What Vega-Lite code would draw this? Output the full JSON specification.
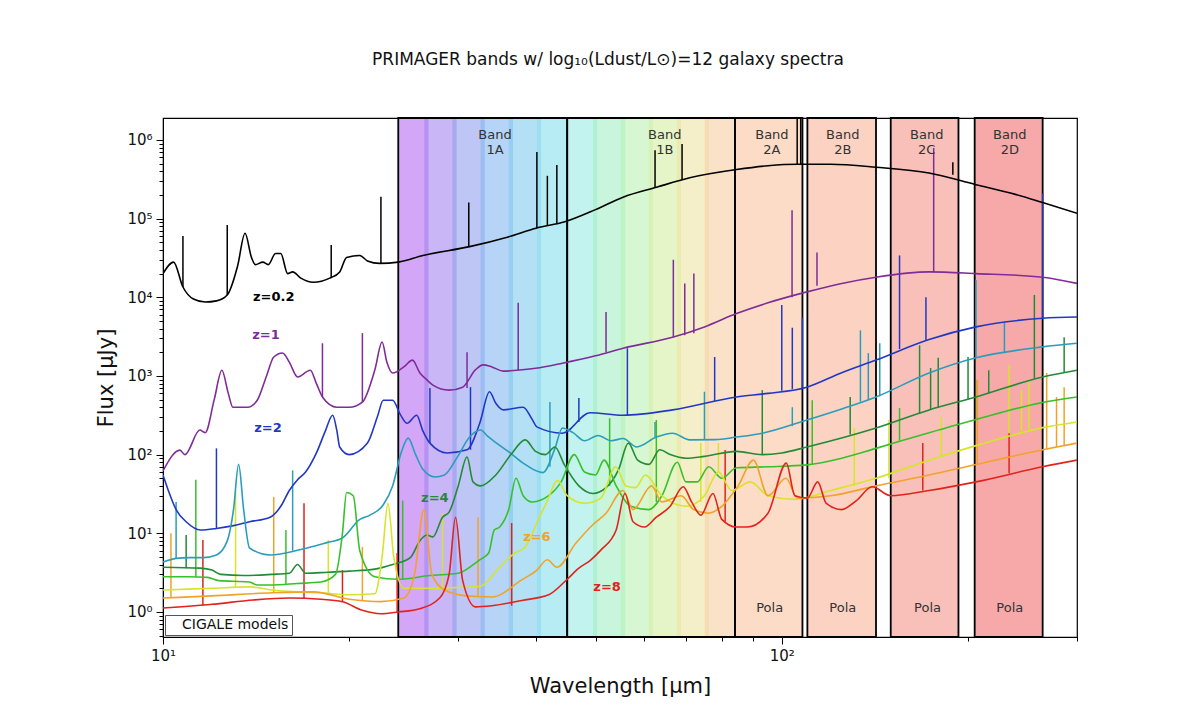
{
  "$schema": "https://vega.github.io/schema/vega-lite/v6.json",
  "width": 914,
  "height": 519,
  "autosize": "none",
  "padding": {"left": 163, "top": 118, "right": 115, "bottom": 83},
  "background": "white",
  "config": {"font": "DejaVu Sans", "view": {"stroke": "#000", "strokeWidth": 1.2}},
  "title": {"text": "PRIMAGER bands w/ log₁₀(Ldust/L⊙)=12 galaxy spectra", "fontSize": 17, "fontWeight": "normal", "font": "DejaVu Sans", "color": "#111", "offset": 48, "dx": -12},
  "datasets": {
    "strips": [
      {"b": "a1", "lo": 24, "hi": 26.86}, {"b": "a2", "lo": 26.44, "hi": 29.83}, {"b": "a3", "lo": 29.35, "hi": 33.12},
      {"b": "a4", "lo": 32.6, "hi": 36.78}, {"b": "a5", "lo": 36.2, "hi": 40.84}, {"b": "a6", "lo": 40.2, "hi": 45},
      {"b": "b1", "lo": 45, "hi": 50.33}, {"b": "b2", "lo": 49.53, "hi": 55.84}, {"b": "b3", "lo": 54.96, "hi": 61.96},
      {"b": "b4", "lo": 60.98, "hi": 68.75}, {"b": "b5", "lo": 67.66, "hi": 76.31}, {"b": "b6", "lo": 75.1, "hi": 84}
    ],
    "bands": [
      {"b": "1A", "lo": 24, "hi": 45}, {"b": "1B", "lo": 45, "hi": 84},
      {"b": "2A", "lo": 84, "hi": 108}, {"b": "2B", "lo": 110, "hi": 142},
      {"b": "2C", "lo": 150, "hi": 193}, {"b": "2D", "lo": 205, "hi": 264}
    ],
    "labels": [
      {"t": "Band\n1A", "wl": 34.4, "f": 1150000}, {"t": "Band\n1B", "wl": 64.7, "f": 1150000},
      {"t": "Band\n2A", "wl": 96.4, "f": 1150000}, {"t": "Band\n2B", "wl": 125.5, "f": 1150000},
      {"t": "Band\n2C", "wl": 171.5, "f": 1150000}, {"t": "Band\n2D", "wl": 233.6, "f": 1150000},
      {"t": "Pola", "wl": 95.6, "f": 1.12}, {"t": "Pola", "wl": 125.5, "f": 1.12},
      {"t": "Pola", "wl": 172, "f": 1.12}, {"t": "Pola", "wl": 233.6, "f": 1.12}
    ],
    "zlabels": [
      {"t": "z=0.2", "s": "z=0.2", "wl": 15.1, "f": 10000},
      {"t": "z=1", "s": "z=1", "wl": 14.67, "f": 3300},
      {"t": "z=2", "s": "z=2", "wl": 14.78, "f": 218},
      {"t": "z=4", "s": "z=4", "wl": 27.5, "f": 28},
      {"t": "z=6", "s": "z=7", "wl": 40.2, "f": 9},
      {"t": "z=8", "s": "z=8", "wl": 52.2, "f": 2.08}
    ],
    "spikes": [
      {"s": "z=0.2", "wl": 10.77, "lo": 13500, "hi": 60000}, {"s": "z=0.2", "wl": 12.7, "lo": 10700, "hi": 83000},
      {"s": "z=0.2", "wl": 18.7, "lo": 17500, "hi": 46000}, {"s": "z=0.2", "wl": 22.5, "lo": 27000, "hi": 190000},
      {"s": "z=0.2", "wl": 31.2, "lo": 44000, "hi": 160000}, {"s": "z=0.2", "wl": 40.2, "lo": 76000, "hi": 700000},
      {"s": "z=0.2", "wl": 41.8, "lo": 82000, "hi": 350000}, {"s": "z=0.2", "wl": 43.3, "lo": 88000, "hi": 480000},
      {"s": "z=0.2", "wl": 62.4, "lo": 250000, "hi": 740000}, {"s": "z=0.2", "wl": 69, "lo": 310000, "hi": 890000},
      {"s": "z=0.2", "wl": 105.9, "lo": 490000, "hi": 3000000}, {"s": "z=0.2", "wl": 107.3, "lo": 490000, "hi": 3000000},
      {"s": "z=0.2", "wl": 189, "lo": 360000, "hi": 520000},
      {"s": "z=1", "wl": 18.1, "lo": 540, "hi": 2600}, {"s": "z=1", "wl": 21.0, "lo": 465, "hi": 3500},
      {"s": "z=1", "wl": 31.0, "lo": 700, "hi": 2000}, {"s": "z=1", "wl": 37.5, "lo": 1180, "hi": 8500},
      {"s": "z=1", "wl": 52, "lo": 2000, "hi": 6500}, {"s": "z=1", "wl": 66.8, "lo": 3100, "hi": 30000},
      {"s": "z=1", "wl": 69.7, "lo": 3300, "hi": 15000}, {"s": "z=1", "wl": 72.1, "lo": 3500, "hi": 20000},
      {"s": "z=1", "wl": 103.9, "lo": 10000, "hi": 128000}, {"s": "z=1", "wl": 114, "lo": 14000, "hi": 37000},
      {"s": "z=1", "wl": 176, "lo": 21000, "hi": 790000},
      {"s": "z=2", "wl": 12.2, "lo": 11.5, "hi": 120}, {"s": "z=2", "wl": 27, "lo": 140, "hi": 700},
      {"s": "z=2", "wl": 31.4, "lo": 115, "hi": 720}, {"s": "z=2", "wl": 47, "lo": 260, "hi": 525},
      {"s": "z=2", "wl": 56.3, "lo": 316, "hi": 2250}, {"s": "z=2", "wl": 77.9, "lo": 480, "hi": 1740},
      {"s": "z=2", "wl": 100, "lo": 650, "hi": 8000}, {"s": "z=2", "wl": 104, "lo": 680, "hi": 4100},
      {"s": "z=2", "wl": 108, "lo": 710, "hi": 5500}, {"s": "z=2", "wl": 155, "lo": 2200, "hi": 34000},
      {"s": "z=2", "wl": 171, "lo": 2800, "hi": 10000}, {"s": "z=2", "wl": 264, "lo": 5400, "hi": 210000},
      {"s": "z=3", "wl": 10.5, "lo": 4.8, "hi": 25}, {"s": "z=3", "wl": 16.2, "lo": 6, "hi": 63},
      {"s": "z=3", "wl": 42.2, "lo": 70, "hi": 465}, {"s": "z=3", "wl": 62.4, "lo": 167, "hi": 260},
      {"s": "z=3", "wl": 75, "lo": 155, "hi": 630}, {"s": "z=3", "wl": 104, "lo": 230, "hi": 400},
      {"s": "z=3", "wl": 134, "lo": 470, "hi": 3800}, {"s": "z=3", "wl": 138, "lo": 500, "hi": 1950},
      {"s": "z=3", "wl": 144, "lo": 550, "hi": 2600}, {"s": "z=3", "wl": 206, "lo": 1700, "hi": 16600},
      {"s": "z=3", "wl": 229, "lo": 1950, "hi": 4800},
      {"s": "z=4", "wl": 10.9, "lo": 3.6, "hi": 9.5}, {"s": "z=4", "wl": 93, "lo": 100, "hi": 660},
      {"s": "z=4", "wl": 129, "lo": 180, "hi": 540}, {"s": "z=4", "wl": 167, "lo": 330, "hi": 2450},
      {"s": "z=4", "wl": 174, "lo": 380, "hi": 1260}, {"s": "z=4", "wl": 179, "lo": 400, "hi": 1700},
      {"s": "z=4", "wl": 200, "lo": 500, "hi": 1740}, {"s": "z=4", "wl": 216, "lo": 600, "hi": 1180},
      {"s": "z=4", "wl": 256, "lo": 920, "hi": 10700}, {"s": "z=4", "wl": 286, "lo": 1100, "hi": 3100},
      {"s": "z=5", "wl": 11.3, "lo": 2.75, "hi": 48}, {"s": "z=5", "wl": 15.8, "lo": 2.2, "hi": 11},
      {"s": "z=5", "wl": 24.4, "lo": 2.6, "hi": 26}, {"s": "z=5", "wl": 52.7, "lo": 40, "hi": 290},
      {"s": "z=5", "wl": 62.7, "lo": 25, "hi": 275}, {"s": "z=5", "wl": 112, "lo": 75, "hi": 490},
      {"s": "z=5", "wl": 155, "lo": 150, "hi": 390}, {"s": "z=5", "wl": 207, "lo": 280, "hi": 890},
      {"s": "z=6", "wl": 13.1, "lo": 2.05, "hi": 35}, {"s": "z=6", "wl": 18.5, "lo": 1.75, "hi": 8.2},
      {"s": "z=6", "wl": 28.3, "lo": 2.0, "hi": 18}, {"s": "z=6", "wl": 74, "lo": 25, "hi": 140},
      {"s": "z=6", "wl": 79, "lo": 60, "hi": 140}, {"s": "z=6", "wl": 131, "lo": 40, "hi": 220},
      {"s": "z=6", "wl": 149, "lo": 50, "hi": 275}, {"s": "z=6", "wl": 181, "lo": 95, "hi": 300},
      {"s": "z=6", "wl": 233, "lo": 190, "hi": 1380}, {"s": "z=6", "wl": 244, "lo": 200, "hi": 660},
      {"s": "z=6", "wl": 251, "lo": 210, "hi": 830},
      {"s": "z=7", "wl": 10.3, "lo": 1.5, "hi": 10}, {"s": "z=7", "wl": 15.1, "lo": 1.75, "hi": 29},
      {"s": "z=7", "wl": 21, "lo": 1.4, "hi": 6.7}, {"s": "z=7", "wl": 32.3, "lo": 1.6, "hi": 16},
      {"s": "z=7", "wl": 207, "lo": 75, "hi": 890}, {"s": "z=7", "wl": 268, "lo": 118, "hi": 1090},
      {"s": "z=7", "wl": 278, "lo": 125, "hi": 540}, {"s": "z=7", "wl": 286, "lo": 130, "hi": 720},
      {"s": "z=8", "wl": 11.6, "lo": 1.2, "hi": 8.2}, {"s": "z=8", "wl": 16.9, "lo": 1.5, "hi": 24},
      {"s": "z=8", "wl": 19.5, "lo": 1.35, "hi": 3.4}, {"s": "z=8", "wl": 23.9, "lo": 1.0, "hi": 5.6},
      {"s": "z=8", "wl": 36.6, "lo": 1.2, "hi": 13.5}, {"s": "z=8", "wl": 81, "lo": 14, "hi": 114},
      {"s": "z=8", "wl": 169, "lo": 35, "hi": 140}, {"s": "z=8", "wl": 233, "lo": 58, "hi": 187}
    ],
    "spec": [
      {"s": "z=0.2", "wl": 10, "f": 20000}, {"s": "z=0.2", "wl": 10.4, "f": 28000}, {"s": "z=0.2", "wl": 10.77, "f": 13500},
      {"s": "z=0.2", "wl": 11.2, "f": 9500}, {"s": "z=0.2", "wl": 11.7, "f": 8700}, {"s": "z=0.2", "wl": 12.2, "f": 9000},
      {"s": "z=0.2", "wl": 12.7, "f": 10700}, {"s": "z=0.2", "wl": 13.2, "f": 25000}, {"s": "z=0.2", "wl": 13.57, "f": 65000},
      {"s": "z=0.2", "wl": 13.9, "f": 32000}, {"s": "z=0.2", "wl": 14.1, "f": 26000}, {"s": "z=0.2", "wl": 14.5, "f": 28000},
      {"s": "z=0.2", "wl": 14.8, "f": 26000}, {"s": "z=0.2", "wl": 15.2, "f": 36000}, {"s": "z=0.2", "wl": 15.5, "f": 36000},
      {"s": "z=0.2", "wl": 15.9, "f": 20000}, {"s": "z=0.2", "wl": 16.2, "f": 21000}, {"s": "z=0.2", "wl": 16.7, "f": 17500},
      {"s": "z=0.2", "wl": 17.5, "f": 15500}, {"s": "z=0.2", "wl": 18.6, "f": 17500}, {"s": "z=0.2", "wl": 19.3, "f": 21000},
      {"s": "z=0.2", "wl": 19.8, "f": 32000}, {"s": "z=0.2", "wl": 20.8, "f": 34000}, {"s": "z=0.2", "wl": 21.4, "f": 29000},
      {"s": "z=0.2", "wl": 22.4, "f": 27000}, {"s": "z=0.2", "wl": 24, "f": 28000}, {"s": "z=0.2", "wl": 26.3, "f": 34000},
      {"s": "z=0.2", "wl": 31.3, "f": 44000}, {"s": "z=0.2", "wl": 36, "f": 58000}, {"s": "z=0.2", "wl": 40.2, "f": 76000},
      {"s": "z=0.2", "wl": 44.6, "f": 91000}, {"s": "z=0.2", "wl": 50, "f": 130000}, {"s": "z=0.2", "wl": 55.4, "f": 187000},
      {"s": "z=0.2", "wl": 62.7, "f": 250000}, {"s": "z=0.2", "wl": 71, "f": 330000}, {"s": "z=0.2", "wl": 84.5, "f": 420000},
      {"s": "z=0.2", "wl": 95, "f": 470000}, {"s": "z=0.2", "wl": 106, "f": 490000}, {"s": "z=0.2", "wl": 120, "f": 490000},
      {"s": "z=0.2", "wl": 142, "f": 450000}, {"s": "z=0.2", "wl": 173, "f": 380000}, {"s": "z=0.2", "wl": 206, "f": 270000},
      {"s": "z=0.2", "wl": 235, "f": 210000}, {"s": "z=0.2", "wl": 264, "f": 160000}, {"s": "z=0.2", "wl": 300, "f": 117000},

      {"s": "z=1", "wl": 10, "f": 62}, {"s": "z=1", "wl": 10.65, "f": 114}, {"s": "z=1", "wl": 10.85, "f": 100},
      {"s": "z=1", "wl": 11.47, "f": 205}, {"s": "z=1", "wl": 11.7, "f": 190}, {"s": "z=1", "wl": 12.1, "f": 500},
      {"s": "z=1", "wl": 12.45, "f": 1180}, {"s": "z=1", "wl": 12.75, "f": 600}, {"s": "z=1", "wl": 12.97, "f": 400},
      {"s": "z=1", "wl": 13.7, "f": 400}, {"s": "z=1", "wl": 14.2, "f": 490}, {"s": "z=1", "wl": 14.7, "f": 1000},
      {"s": "z=1", "wl": 15.1, "f": 1740}, {"s": "z=1", "wl": 15.6, "f": 1960}, {"s": "z=1", "wl": 16.0, "f": 1500},
      {"s": "z=1", "wl": 16.5, "f": 970}, {"s": "z=1", "wl": 17.3, "f": 1180}, {"s": "z=1", "wl": 17.7, "f": 800},
      {"s": "z=1", "wl": 18.1, "f": 540}, {"s": "z=1", "wl": 19.1, "f": 400}, {"s": "z=1", "wl": 20.0, "f": 400},
      {"s": "z=1", "wl": 21.0, "f": 465}, {"s": "z=1", "wl": 22.0, "f": 1200}, {"s": "z=1", "wl": 22.6, "f": 2700},
      {"s": "z=1", "wl": 23.0, "f": 1500}, {"s": "z=1", "wl": 23.5, "f": 1090}, {"s": "z=1", "wl": 24.5, "f": 1300},
      {"s": "z=1", "wl": 25.3, "f": 1590}, {"s": "z=1", "wl": 26.0, "f": 1100}, {"s": "z=1", "wl": 26.7, "f": 890},
      {"s": "z=1", "wl": 27.3, "f": 765}, {"s": "z=1", "wl": 29.0, "f": 660}, {"s": "z=1", "wl": 30.5, "f": 720},
      {"s": "z=1", "wl": 32.0, "f": 1200}, {"s": "z=1", "wl": 32.9, "f": 1380}, {"s": "z=1", "wl": 34.0, "f": 1300},
      {"s": "z=1", "wl": 35.5, "f": 1150}, {"s": "z=1", "wl": 37.3, "f": 1180}, {"s": "z=1", "wl": 40, "f": 1250},
      {"s": "z=1", "wl": 44.2, "f": 1450}, {"s": "z=1", "wl": 50, "f": 1800}, {"s": "z=1", "wl": 55.4, "f": 2250},
      {"s": "z=1", "wl": 66.6, "f": 3100}, {"s": "z=1", "wl": 75, "f": 4200}, {"s": "z=1", "wl": 84.5, "f": 6200},
      {"s": "z=1", "wl": 95, "f": 8500}, {"s": "z=1", "wl": 109.8, "f": 11700}, {"s": "z=1", "wl": 125, "f": 15000},
      {"s": "z=1", "wl": 142, "f": 18000}, {"s": "z=1", "wl": 173, "f": 21000}, {"s": "z=1", "wl": 206, "f": 20000},
      {"s": "z=1", "wl": 264, "f": 18000}, {"s": "z=1", "wl": 300, "f": 15000},

      {"s": "z=2", "wl": 10, "f": 55}, {"s": "z=2", "wl": 10.2, "f": 35}, {"s": "z=2", "wl": 10.5, "f": 20},
      {"s": "z=2", "wl": 10.9, "f": 14}, {"s": "z=2", "wl": 11.5, "f": 11}, {"s": "z=2", "wl": 12.2, "f": 11.5},
      {"s": "z=2", "wl": 13, "f": 12.5}, {"s": "z=2", "wl": 13.8, "f": 14}, {"s": "z=2", "wl": 14.9, "f": 16},
      {"s": "z=2", "wl": 15.5, "f": 22}, {"s": "z=2", "wl": 16.0, "f": 35}, {"s": "z=2", "wl": 16.5, "f": 48},
      {"s": "z=2", "wl": 17.0, "f": 60}, {"s": "z=2", "wl": 17.7, "f": 105}, {"s": "z=2", "wl": 18.3, "f": 200},
      {"s": "z=2", "wl": 18.8, "f": 316}, {"s": "z=2", "wl": 19.1, "f": 200}, {"s": "z=2", "wl": 19.3, "f": 125},
      {"s": "z=2", "wl": 20.0, "f": 100}, {"s": "z=2", "wl": 21.4, "f": 140}, {"s": "z=2", "wl": 22.2, "f": 300},
      {"s": "z=2", "wl": 22.7, "f": 490}, {"s": "z=2", "wl": 23.5, "f": 490}, {"s": "z=2", "wl": 24.2, "f": 320},
      {"s": "z=2", "wl": 24.8, "f": 250}, {"s": "z=2", "wl": 25.7, "f": 316}, {"s": "z=2", "wl": 26.3, "f": 200},
      {"s": "z=2", "wl": 27, "f": 140}, {"s": "z=2", "wl": 28.8, "f": 105}, {"s": "z=2", "wl": 31, "f": 115},
      {"s": "z=2", "wl": 32.5, "f": 250}, {"s": "z=2", "wl": 33.7, "f": 630}, {"s": "z=2", "wl": 34.5, "f": 450},
      {"s": "z=2", "wl": 35.5, "f": 370}, {"s": "z=2", "wl": 38.2, "f": 400}, {"s": "z=2", "wl": 39.5, "f": 280},
      {"s": "z=2", "wl": 40.2, "f": 225}, {"s": "z=2", "wl": 44.2, "f": 187}, {"s": "z=2", "wl": 49, "f": 340},
      {"s": "z=2", "wl": 55.4, "f": 316}, {"s": "z=2", "wl": 66.6, "f": 370}, {"s": "z=2", "wl": 84.5, "f": 540},
      {"s": "z=2", "wl": 95, "f": 600}, {"s": "z=2", "wl": 109.8, "f": 720}, {"s": "z=2", "wl": 125, "f": 1100},
      {"s": "z=2", "wl": 142, "f": 1590}, {"s": "z=2", "wl": 173, "f": 2900}, {"s": "z=2", "wl": 206, "f": 4200},
      {"s": "z=2", "wl": 264, "f": 5400}, {"s": "z=2", "wl": 300, "f": 5600},

      {"s": "z=3", "wl": 10, "f": 4.3}, {"s": "z=3", "wl": 10.5, "f": 4.8}, {"s": "z=3", "wl": 11, "f": 4.9},
      {"s": "z=3", "wl": 11.6, "f": 4.9}, {"s": "z=3", "wl": 12.2, "f": 5.3}, {"s": "z=3", "wl": 12.7, "f": 8},
      {"s": "z=3", "wl": 13.0, "f": 20}, {"s": "z=3", "wl": 13.25, "f": 75}, {"s": "z=3", "wl": 13.5, "f": 20},
      {"s": "z=3", "wl": 13.8, "f": 6.5}, {"s": "z=3", "wl": 14.9, "f": 5.3}, {"s": "z=3", "wl": 16.7, "f": 6.2},
      {"s": "z=3", "wl": 18.4, "f": 7.6}, {"s": "z=3", "wl": 19.5, "f": 8.7}, {"s": "z=3", "wl": 20.8, "f": 15},
      {"s": "z=3", "wl": 21.6, "f": 17}, {"s": "z=3", "wl": 22.7, "f": 23}, {"s": "z=3", "wl": 23.5, "f": 40},
      {"s": "z=3", "wl": 24.3, "f": 110}, {"s": "z=3", "wl": 24.9, "f": 162}, {"s": "z=3", "wl": 25.6, "f": 100},
      {"s": "z=3", "wl": 26.3, "f": 65}, {"s": "z=3", "wl": 27.5, "f": 52}, {"s": "z=3", "wl": 28.5, "f": 55},
      {"s": "z=3", "wl": 29.9, "f": 93}, {"s": "z=3", "wl": 31.3, "f": 167}, {"s": "z=3", "wl": 32.6, "f": 205},
      {"s": "z=3", "wl": 33.5, "f": 170}, {"s": "z=3", "wl": 34.6, "f": 140}, {"s": "z=3", "wl": 36.4, "f": 105},
      {"s": "z=3", "wl": 38.2, "f": 78}, {"s": "z=3", "wl": 41.1, "f": 59}, {"s": "z=3", "wl": 43, "f": 120},
      {"s": "z=3", "wl": 44.2, "f": 218}, {"s": "z=3", "wl": 46, "f": 190}, {"s": "z=3", "wl": 48, "f": 150},
      {"s": "z=3", "wl": 50.5, "f": 175}, {"s": "z=3", "wl": 53, "f": 150}, {"s": "z=3", "wl": 55.4, "f": 160},
      {"s": "z=3", "wl": 58.3, "f": 125}, {"s": "z=3", "wl": 62.7, "f": 167}, {"s": "z=3", "wl": 66.6, "f": 187},
      {"s": "z=3", "wl": 71, "f": 154}, {"s": "z=3", "wl": 78, "f": 155}, {"s": "z=3", "wl": 84.5, "f": 167},
      {"s": "z=3", "wl": 93, "f": 187}, {"s": "z=3", "wl": 109.8, "f": 275}, {"s": "z=3", "wl": 125, "f": 380},
      {"s": "z=3", "wl": 142, "f": 540}, {"s": "z=3", "wl": 173, "f": 1090}, {"s": "z=3", "wl": 206, "f": 1700},
      {"s": "z=3", "wl": 264, "f": 2340}, {"s": "z=3", "wl": 300, "f": 2600},

      {"s": "z=4", "wl": 10, "f": 3.7}, {"s": "z=4", "wl": 11.5, "f": 3.6}, {"s": "z=4", "wl": 12, "f": 3.4},
      {"s": "z=4", "wl": 12.4, "f": 3.0}, {"s": "z=4", "wl": 13.5, "f": 2.9}, {"s": "z=4", "wl": 15, "f": 3.0},
      {"s": "z=4", "wl": 16, "f": 3.1}, {"s": "z=4", "wl": 16.5, "f": 4.0}, {"s": "z=4", "wl": 17, "f": 3.1},
      {"s": "z=4", "wl": 18.5, "f": 3.2}, {"s": "z=4", "wl": 20, "f": 3.3}, {"s": "z=4", "wl": 22, "f": 3.5},
      {"s": "z=4", "wl": 23.5, "f": 4.0}, {"s": "z=4", "wl": 25.1, "f": 4.9}, {"s": "z=4", "wl": 26, "f": 8},
      {"s": "z=4", "wl": 26.7, "f": 9.5}, {"s": "z=4", "wl": 27.3, "f": 9}, {"s": "z=4", "wl": 28.3, "f": 16},
      {"s": "z=4", "wl": 29, "f": 18.6}, {"s": "z=4", "wl": 30, "f": 40}, {"s": "z=4", "wl": 31, "f": 93},
      {"s": "z=4", "wl": 31.7, "f": 45}, {"s": "z=4", "wl": 32.6, "f": 40}, {"s": "z=4", "wl": 34.5, "f": 55},
      {"s": "z=4", "wl": 36.5, "f": 100}, {"s": "z=4", "wl": 38.5, "f": 154}, {"s": "z=4", "wl": 40, "f": 110},
      {"s": "z=4", "wl": 41.5, "f": 100}, {"s": "z=4", "wl": 43, "f": 125}, {"s": "z=4", "wl": 44.5, "f": 75},
      {"s": "z=4", "wl": 47, "f": 40}, {"s": "z=4", "wl": 49.5, "f": 32}, {"s": "z=4", "wl": 52, "f": 38},
      {"s": "z=4", "wl": 54.5, "f": 65}, {"s": "z=4", "wl": 56.5, "f": 140}, {"s": "z=4", "wl": 58.5, "f": 85},
      {"s": "z=4", "wl": 61, "f": 75}, {"s": "z=4", "wl": 63.5, "f": 115}, {"s": "z=4", "wl": 66, "f": 100},
      {"s": "z=4", "wl": 70, "f": 90}, {"s": "z=4", "wl": 75, "f": 95}, {"s": "z=4", "wl": 84.5, "f": 110},
      {"s": "z=4", "wl": 93, "f": 100}, {"s": "z=4", "wl": 100, "f": 105}, {"s": "z=4", "wl": 109.8, "f": 125},
      {"s": "z=4", "wl": 142, "f": 218}, {"s": "z=4", "wl": 173, "f": 370}, {"s": "z=4", "wl": 206, "f": 540},
      {"s": "z=4", "wl": 264, "f": 970}, {"s": "z=4", "wl": 300, "f": 1180},

      {"s": "z=5", "wl": 10, "f": 2.8}, {"s": "z=5", "wl": 11, "f": 2.8}, {"s": "z=5", "wl": 11.8, "f": 2.75},
      {"s": "z=5", "wl": 12.3, "f": 2.5}, {"s": "z=5", "wl": 13, "f": 2.45}, {"s": "z=5", "wl": 13.8, "f": 2.4},
      {"s": "z=5", "wl": 14.2, "f": 2.2}, {"s": "z=5", "wl": 15, "f": 2.2}, {"s": "z=5", "wl": 16.5, "f": 2.3},
      {"s": "z=5", "wl": 18, "f": 2.4}, {"s": "z=5", "wl": 19, "f": 3.0}, {"s": "z=5", "wl": 19.5, "f": 10},
      {"s": "z=5", "wl": 19.8, "f": 33}, {"s": "z=5", "wl": 20.3, "f": 30}, {"s": "z=5", "wl": 20.8, "f": 6},
      {"s": "z=5", "wl": 22, "f": 2.8}, {"s": "z=5", "wl": 24, "f": 2.6}, {"s": "z=5", "wl": 27, "f": 2.9},
      {"s": "z=5", "wl": 30, "f": 3.1}, {"s": "z=5", "wl": 32.5, "f": 4.6}, {"s": "z=5", "wl": 33.6, "f": 5.6},
      {"s": "z=5", "wl": 34.3, "f": 11}, {"s": "z=5", "wl": 35, "f": 12}, {"s": "z=5", "wl": 36.2, "f": 20},
      {"s": "z=5", "wl": 37.2, "f": 50}, {"s": "z=5", "wl": 38.2, "f": 30}, {"s": "z=5", "wl": 39.5, "f": 25},
      {"s": "z=5", "wl": 42, "f": 30}, {"s": "z=5", "wl": 44, "f": 45}, {"s": "z=5", "wl": 46.2, "f": 100},
      {"s": "z=5", "wl": 48, "f": 60}, {"s": "z=5", "wl": 50, "f": 55}, {"s": "z=5", "wl": 51.6, "f": 85},
      {"s": "z=5", "wl": 54, "f": 40}, {"s": "z=5", "wl": 57, "f": 22}, {"s": "z=5", "wl": 61, "f": 20},
      {"s": "z=5", "wl": 64, "f": 30}, {"s": "z=5", "wl": 67.8, "f": 80}, {"s": "z=5", "wl": 70, "f": 45},
      {"s": "z=5", "wl": 73, "f": 45}, {"s": "z=5", "wl": 76.2, "f": 70}, {"s": "z=5", "wl": 80, "f": 50},
      {"s": "z=5", "wl": 84.5, "f": 68}, {"s": "z=5", "wl": 95, "f": 70}, {"s": "z=5", "wl": 109.8, "f": 74},
      {"s": "z=5", "wl": 125, "f": 90}, {"s": "z=5", "wl": 142, "f": 120}, {"s": "z=5", "wl": 173, "f": 190},
      {"s": "z=5", "wl": 206, "f": 280}, {"s": "z=5", "wl": 264, "f": 460}, {"s": "z=5", "wl": 300, "f": 540},

      {"s": "z=6", "wl": 10, "f": 1.9}, {"s": "z=6", "wl": 12, "f": 2.0}, {"s": "z=6", "wl": 13.8, "f": 2.08},
      {"s": "z=6", "wl": 15, "f": 1.9}, {"s": "z=6", "wl": 16.5, "f": 1.8}, {"s": "z=6", "wl": 18, "f": 1.75},
      {"s": "z=6", "wl": 20, "f": 1.65}, {"s": "z=6", "wl": 22, "f": 1.7}, {"s": "z=6", "wl": 22.6, "f": 5},
      {"s": "z=6", "wl": 23.1, "f": 24}, {"s": "z=6", "wl": 23.6, "f": 5}, {"s": "z=6", "wl": 24.5, "f": 2.0},
      {"s": "z=6", "wl": 27, "f": 2.0}, {"s": "z=6", "wl": 30, "f": 2.05}, {"s": "z=6", "wl": 32.5, "f": 2.1},
      {"s": "z=6", "wl": 35, "f": 3.7}, {"s": "z=6", "wl": 37, "f": 5.6}, {"s": "z=6", "wl": 38.5, "f": 6.7},
      {"s": "z=6", "wl": 40.2, "f": 13.5}, {"s": "z=6", "wl": 41.8, "f": 26}, {"s": "z=6", "wl": 43.4, "f": 47},
      {"s": "z=6", "wl": 45, "f": 30}, {"s": "z=6", "wl": 48, "f": 24}, {"s": "z=6", "wl": 51, "f": 28},
      {"s": "z=6", "wl": 53.9, "f": 70}, {"s": "z=6", "wl": 56, "f": 40}, {"s": "z=6", "wl": 58, "f": 38},
      {"s": "z=6", "wl": 60.2, "f": 55}, {"s": "z=6", "wl": 64, "f": 30}, {"s": "z=6", "wl": 70, "f": 22},
      {"s": "z=6", "wl": 75, "f": 30}, {"s": "z=6", "wl": 79, "f": 60}, {"s": "z=6", "wl": 83, "f": 35},
      {"s": "z=6", "wl": 89, "f": 45}, {"s": "z=6", "wl": 95, "f": 30}, {"s": "z=6", "wl": 105, "f": 27},
      {"s": "z=6", "wl": 120, "f": 35}, {"s": "z=6", "wl": 142, "f": 50}, {"s": "z=6", "wl": 173, "f": 85},
      {"s": "z=6", "wl": 206, "f": 130}, {"s": "z=6", "wl": 264, "f": 220}, {"s": "z=6", "wl": 300, "f": 260},

      {"s": "z=7", "wl": 10, "f": 1.5}, {"s": "z=7", "wl": 12, "f": 1.6}, {"s": "z=7", "wl": 15, "f": 1.75},
      {"s": "z=7", "wl": 17.5, "f": 1.8}, {"s": "z=7", "wl": 20, "f": 1.45}, {"s": "z=7", "wl": 22.5, "f": 1.35},
      {"s": "z=7", "wl": 24.5, "f": 1.5}, {"s": "z=7", "wl": 25.5, "f": 3}, {"s": "z=7", "wl": 26.4, "f": 20},
      {"s": "z=7", "wl": 27.2, "f": 3}, {"s": "z=7", "wl": 28.5, "f": 1.9}, {"s": "z=7", "wl": 31, "f": 1.6},
      {"s": "z=7", "wl": 34, "f": 1.55}, {"s": "z=7", "wl": 38, "f": 2.55}, {"s": "z=7", "wl": 40.2, "f": 3.4},
      {"s": "z=7", "wl": 41.8, "f": 4.6}, {"s": "z=7", "wl": 43.3, "f": 3.7}, {"s": "z=7", "wl": 46.5, "f": 7.5},
      {"s": "z=7", "wl": 49.6, "f": 13}, {"s": "z=7", "wl": 52, "f": 18}, {"s": "z=7", "wl": 55.4, "f": 35},
      {"s": "z=7", "wl": 57.5, "f": 20}, {"s": "z=7", "wl": 61.6, "f": 40}, {"s": "z=7", "wl": 64, "f": 25},
      {"s": "z=7", "wl": 68.8, "f": 30}, {"s": "z=7", "wl": 72, "f": 20}, {"s": "z=7", "wl": 76, "f": 18},
      {"s": "z=7", "wl": 80, "f": 22}, {"s": "z=7", "wl": 85, "f": 40}, {"s": "z=7", "wl": 90, "f": 85},
      {"s": "z=7", "wl": 95, "f": 30}, {"s": "z=7", "wl": 101.6, "f": 50}, {"s": "z=7", "wl": 106, "f": 28},
      {"s": "z=7", "wl": 120, "f": 30}, {"s": "z=7", "wl": 142, "f": 40}, {"s": "z=7", "wl": 173, "f": 55},
      {"s": "z=7", "wl": 206, "f": 75}, {"s": "z=7", "wl": 264, "f": 115}, {"s": "z=7", "wl": 300, "f": 140},

      {"s": "z=8", "wl": 10, "f": 1.12}, {"s": "z=8", "wl": 12, "f": 1.25}, {"s": "z=8", "wl": 14, "f": 1.42},
      {"s": "z=8", "wl": 16, "f": 1.5}, {"s": "z=8", "wl": 18, "f": 1.45}, {"s": "z=8", "wl": 19.5, "f": 1.35},
      {"s": "z=8", "wl": 21, "f": 1.05}, {"s": "z=8", "wl": 22.5, "f": 0.95}, {"s": "z=8", "wl": 24, "f": 1.0},
      {"s": "z=8", "wl": 26, "f": 1.1}, {"s": "z=8", "wl": 28, "f": 1.5}, {"s": "z=8", "wl": 29, "f": 3},
      {"s": "z=8", "wl": 29.7, "f": 16}, {"s": "z=8", "wl": 30.5, "f": 2.5}, {"s": "z=8", "wl": 32, "f": 1.16},
      {"s": "z=8", "wl": 34, "f": 1.2}, {"s": "z=8", "wl": 38, "f": 1.4}, {"s": "z=8", "wl": 42, "f": 1.65},
      {"s": "z=8", "wl": 45, "f": 2.6}, {"s": "z=8", "wl": 47, "f": 3.6}, {"s": "z=8", "wl": 49, "f": 4.5},
      {"s": "z=8", "wl": 51, "f": 6.1}, {"s": "z=8", "wl": 54, "f": 11}, {"s": "z=8", "wl": 55.8, "f": 32},
      {"s": "z=8", "wl": 57.5, "f": 14}, {"s": "z=8", "wl": 60, "f": 12}, {"s": "z=8", "wl": 62.7, "f": 16},
      {"s": "z=8", "wl": 66, "f": 22}, {"s": "z=8", "wl": 69.3, "f": 39}, {"s": "z=8", "wl": 71.5, "f": 25},
      {"s": "z=8", "wl": 74, "f": 17}, {"s": "z=8", "wl": 77.4, "f": 32}, {"s": "z=8", "wl": 80, "f": 15},
      {"s": "z=8", "wl": 84.5, "f": 12}, {"s": "z=8", "wl": 88, "f": 12}, {"s": "z=8", "wl": 95, "f": 18},
      {"s": "z=8", "wl": 101.7, "f": 78}, {"s": "z=8", "wl": 105, "f": 30}, {"s": "z=8", "wl": 110, "f": 28},
      {"s": "z=8", "wl": 114.3, "f": 45}, {"s": "z=8", "wl": 118, "f": 24}, {"s": "z=8", "wl": 125, "f": 20},
      {"s": "z=8", "wl": 132, "f": 26}, {"s": "z=8", "wl": 140, "f": 39}, {"s": "z=8", "wl": 150, "f": 30},
      {"s": "z=8", "wl": 173, "f": 35}, {"s": "z=8", "wl": 206, "f": 45}, {"s": "z=8", "wl": 264, "f": 70},
      {"s": "z=8", "wl": 300, "f": 85}
    ]
  },
  "layer": [
    {
      "data": {"name": "strips"},
      "mark": {"type": "rect", "opacity": 0.6},
      "encoding": {
        "x": {"field": "lo", "type": "quantitative", "scale": {"type": "log", "domain": [10, 300], "nice": false},
          "axis": {"values": [10, 20, 30, 40, 50, 60, 70, 80, 90, 100, 200, 300], "labelExpr": "datum.value==10?'10¹':datum.value==100?'10²':''", "tickSize": {"condition": {"test": "datum.value==10||datum.value==100", "value": 7}, "value": 4}, "grid": false, "labelFontSize": 15, "labelColor": "#111", "titleFontSize": 21, "titleFontWeight": "normal", "titleColor": "#111", "titlePadding": 12, "labelPadding": 4, "domainColor": "#000", "tickColor": "#000", "labelFlush": false},
          "title": "Wavelength [μm]"},
        "x2": {"field": "hi"},
        "fill": {"field": "b", "type": "nominal", "legend": null,
          "scale": {"domain": ["a1", "a2", "a3", "a4", "a5", "a6", "b1", "b2", "b3", "b4", "b5", "b6", "2A", "2B", "2C", "2D", "1A", "1B"],
            "range": ["#b66bf2", "#a385f0", "#93a0ee", "#85b7ee", "#80cbee", "#89dfed", "#9bebe3", "#a3eec5", "#bbf2b4", "#d5eea3", "#ede4a3", "#f7cfa3", "#fcdcc6", "#fcd3c3", "#f9c0b9", "#f6a9a8", "#ffffff", "#ffffff"]}}
      }
    },
    {
      "data": {"name": "bands"},
      "transform": [{"filter": "datum.b[0] == '2'"}],
      "mark": {"type": "rect"},
      "encoding": {
        "x": {"field": "lo", "type": "quantitative", "scale": {"type": "log", "domain": [10, 300], "nice": false},
          "axis": {"values": [10, 20, 30, 40, 50, 60, 70, 80, 90, 100, 200, 300], "labelExpr": "datum.value==10?'10¹':datum.value==100?'10²':''", "tickSize": {"condition": {"test": "datum.value==10||datum.value==100", "value": 7}, "value": 4}, "grid": false, "labelFontSize": 15, "labelColor": "#111", "titleFontSize": 21, "titleFontWeight": "normal", "titleColor": "#111", "titlePadding": 12, "labelPadding": 4, "domainColor": "#000", "tickColor": "#000", "labelFlush": false},
          "title": "Wavelength [μm]"},
        "x2": {"field": "hi"},
        "fill": {"field": "b", "type": "nominal", "legend": null,
          "scale": {"domain": ["a1", "a2", "a3", "a4", "a5", "a6", "b1", "b2", "b3", "b4", "b5", "b6", "2A", "2B", "2C", "2D", "1A", "1B"],
            "range": ["#b66bf2", "#a385f0", "#93a0ee", "#85b7ee", "#80cbee", "#89dfed", "#9bebe3", "#a3eec5", "#bbf2b4", "#d5eea3", "#ede4a3", "#f7cfa3", "#fcdcc6", "#fcd3c3", "#f9c0b9", "#f6a9a8", "#ffffff", "#ffffff"]}}
      }
    },
    {
      "data": {"name": "bands"},
      "mark": {"type": "rect", "fillOpacity": 0, "stroke": "#000", "strokeWidth": 1.8},
      "encoding": {
        "x": {"field": "lo", "type": "quantitative", "scale": {"type": "log", "domain": [10, 300], "nice": false},
          "axis": {"values": [10, 20, 30, 40, 50, 60, 70, 80, 90, 100, 200, 300], "labelExpr": "datum.value==10?'10¹':datum.value==100?'10²':''", "tickSize": {"condition": {"test": "datum.value==10||datum.value==100", "value": 7}, "value": 4}, "grid": false, "labelFontSize": 15, "labelColor": "#111", "titleFontSize": 21, "titleFontWeight": "normal", "titleColor": "#111", "titlePadding": 12, "labelPadding": 4, "domainColor": "#000", "tickColor": "#000", "labelFlush": false},
          "title": "Wavelength [μm]"},
        "x2": {"field": "hi"}
      }
    },
    {
      "data": {"name": "spikes"},
      "mark": {"type": "rule", "strokeWidth": 1.5, "clip": true},
      "encoding": {
        "x": {"field": "wl", "type": "quantitative", "scale": {"type": "log", "domain": [10, 300], "nice": false},
          "axis": {"values": [10, 20, 30, 40, 50, 60, 70, 80, 90, 100, 200, 300], "labelExpr": "datum.value==10?'10¹':datum.value==100?'10²':''", "tickSize": {"condition": {"test": "datum.value==10||datum.value==100", "value": 7}, "value": 4}, "grid": false, "labelFontSize": 15, "labelColor": "#111", "titleFontSize": 21, "titleFontWeight": "normal", "titleColor": "#111", "titlePadding": 12, "labelPadding": 4, "domainColor": "#000", "tickColor": "#000", "labelFlush": false},
          "title": "Wavelength [μm]"},
        "y": {"field": "lo", "type": "quantitative", "scale": {"type": "log", "domain": [0.48, 1900000], "nice": false},
          "axis": {"values": [0.5, 0.6, 0.7, 0.8, 0.9, 1, 2, 3, 4, 5, 6, 7, 8, 9, 10, 20, 30, 40, 50, 60, 70, 80, 90, 100, 200, 300, 400, 500, 600, 700, 800, 900, 1000, 2000, 3000, 4000, 5000, 6000, 7000, 8000, 9000, 10000, 20000, 30000, 40000, 50000, 60000, 70000, 80000, 90000, 100000, 200000, 300000, 400000, 500000, 600000, 700000, 800000, 900000, 1000000], "labelExpr": "datum.value==1?'10⁰':datum.value==10?'10¹':datum.value==100?'10²':datum.value==1000?'10³':datum.value==10000?'10⁴':datum.value==100000?'10⁵':datum.value==1000000?'10⁶':''", "tickSize": {"condition": {"test": "datum.value==1||datum.value==10||datum.value==100||datum.value==1000||datum.value==10000||datum.value==100000||datum.value==1000000", "value": 7}, "value": 4}, "grid": false, "labelFontSize": 15, "labelColor": "#111", "titleFontSize": 21, "titleFontWeight": "normal", "titleColor": "#111", "titlePadding": 10, "labelPadding": 4, "domainColor": "#000", "tickColor": "#000", "labelFlush": false},
          "title": "Flux [μJy]"},
        "y2": {"field": "hi"},
        "color": {"field": "s", "type": "nominal", "legend": null,
          "scale": {"domain": ["z=0.2", "z=1", "z=2", "z=3", "z=4", "z=5", "z=6", "z=7", "z=8"],
            "range": ["#000000", "#7f2c98", "#2238c4", "#2a9dbd", "#238a35", "#38c02c", "#d6e42a", "#f2a229", "#e0231c"]}}
      }
    },
    {
      "data": {"name": "spec"},
      "mark": {"type": "line", "strokeWidth": 1.6, "interpolate": "monotone", "clip": true},
      "encoding": {
        "x": {"field": "wl", "type": "quantitative", "scale": {"type": "log", "domain": [10, 300], "nice": false},
          "axis": {"values": [10, 20, 30, 40, 50, 60, 70, 80, 90, 100, 200, 300], "labelExpr": "datum.value==10?'10¹':datum.value==100?'10²':''", "tickSize": {"condition": {"test": "datum.value==10||datum.value==100", "value": 7}, "value": 4}, "grid": false, "labelFontSize": 15, "labelColor": "#111", "titleFontSize": 21, "titleFontWeight": "normal", "titleColor": "#111", "titlePadding": 12, "labelPadding": 4, "domainColor": "#000", "tickColor": "#000", "labelFlush": false},
          "title": "Wavelength [μm]"},
        "y": {"field": "f", "type": "quantitative", "scale": {"type": "log", "domain": [0.48, 1900000], "nice": false},
          "axis": {"values": [0.5, 0.6, 0.7, 0.8, 0.9, 1, 2, 3, 4, 5, 6, 7, 8, 9, 10, 20, 30, 40, 50, 60, 70, 80, 90, 100, 200, 300, 400, 500, 600, 700, 800, 900, 1000, 2000, 3000, 4000, 5000, 6000, 7000, 8000, 9000, 10000, 20000, 30000, 40000, 50000, 60000, 70000, 80000, 90000, 100000, 200000, 300000, 400000, 500000, 600000, 700000, 800000, 900000, 1000000], "labelExpr": "datum.value==1?'10⁰':datum.value==10?'10¹':datum.value==100?'10²':datum.value==1000?'10³':datum.value==10000?'10⁴':datum.value==100000?'10⁵':datum.value==1000000?'10⁶':''", "tickSize": {"condition": {"test": "datum.value==1||datum.value==10||datum.value==100||datum.value==1000||datum.value==10000||datum.value==100000||datum.value==1000000", "value": 7}, "value": 4}, "grid": false, "labelFontSize": 15, "labelColor": "#111", "titleFontSize": 21, "titleFontWeight": "normal", "titleColor": "#111", "titlePadding": 10, "labelPadding": 4, "domainColor": "#000", "tickColor": "#000", "labelFlush": false},
          "title": "Flux [μJy]"},
        "color": {"field": "s", "type": "nominal", "legend": null,
          "scale": {"domain": ["z=0.2", "z=1", "z=2", "z=3", "z=4", "z=5", "z=6", "z=7", "z=8"],
            "range": ["#000000", "#7f2c98", "#2238c4", "#2a9dbd", "#238a35", "#38c02c", "#d6e42a", "#f2a229", "#e0231c"]}}
      }
    },
    {
      "data": {"name": "labels"},
      "mark": {"type": "text", "fontSize": 13, "color": "#333", "lineBreak": "\n", "align": "center", "baseline": "middle", "lineHeight": 15},
      "encoding": {
        "x": {"field": "wl", "type": "quantitative", "scale": {"type": "log", "domain": [10, 300], "nice": false},
          "axis": {"values": [10, 20, 30, 40, 50, 60, 70, 80, 90, 100, 200, 300], "labelExpr": "datum.value==10?'10¹':datum.value==100?'10²':''", "tickSize": {"condition": {"test": "datum.value==10||datum.value==100", "value": 7}, "value": 4}, "grid": false, "labelFontSize": 15, "labelColor": "#111", "titleFontSize": 21, "titleFontWeight": "normal", "titleColor": "#111", "titlePadding": 12, "labelPadding": 4, "domainColor": "#000", "tickColor": "#000", "labelFlush": false},
          "title": "Wavelength [μm]"},
        "y": {"field": "f", "type": "quantitative", "scale": {"type": "log", "domain": [0.48, 1900000], "nice": false},
          "axis": {"values": [0.5, 0.6, 0.7, 0.8, 0.9, 1, 2, 3, 4, 5, 6, 7, 8, 9, 10, 20, 30, 40, 50, 60, 70, 80, 90, 100, 200, 300, 400, 500, 600, 700, 800, 900, 1000, 2000, 3000, 4000, 5000, 6000, 7000, 8000, 9000, 10000, 20000, 30000, 40000, 50000, 60000, 70000, 80000, 90000, 100000, 200000, 300000, 400000, 500000, 600000, 700000, 800000, 900000, 1000000], "labelExpr": "datum.value==1?'10⁰':datum.value==10?'10¹':datum.value==100?'10²':datum.value==1000?'10³':datum.value==10000?'10⁴':datum.value==100000?'10⁵':datum.value==1000000?'10⁶':''", "tickSize": {"condition": {"test": "datum.value==1||datum.value==10||datum.value==100||datum.value==1000||datum.value==10000||datum.value==100000||datum.value==1000000", "value": 7}, "value": 4}, "grid": false, "labelFontSize": 15, "labelColor": "#111", "titleFontSize": 21, "titleFontWeight": "normal", "titleColor": "#111", "titlePadding": 10, "labelPadding": 4, "domainColor": "#000", "tickColor": "#000", "labelFlush": false},
          "title": "Flux [μJy]"},
        "text": {"field": "t"}
      }
    },
    {
      "data": {"name": "zlabels"},
      "mark": {"type": "text", "fontSize": 13, "fontWeight": "bold", "align": "center", "baseline": "middle"},
      "encoding": {
        "x": {"field": "wl", "type": "quantitative", "scale": {"type": "log", "domain": [10, 300], "nice": false},
          "axis": {"values": [10, 20, 30, 40, 50, 60, 70, 80, 90, 100, 200, 300], "labelExpr": "datum.value==10?'10¹':datum.value==100?'10²':''", "tickSize": {"condition": {"test": "datum.value==10||datum.value==100", "value": 7}, "value": 4}, "grid": false, "labelFontSize": 15, "labelColor": "#111", "titleFontSize": 21, "titleFontWeight": "normal", "titleColor": "#111", "titlePadding": 12, "labelPadding": 4, "domainColor": "#000", "tickColor": "#000", "labelFlush": false},
          "title": "Wavelength [μm]"},
        "y": {"field": "f", "type": "quantitative", "scale": {"type": "log", "domain": [0.48, 1900000], "nice": false},
          "axis": {"values": [0.5, 0.6, 0.7, 0.8, 0.9, 1, 2, 3, 4, 5, 6, 7, 8, 9, 10, 20, 30, 40, 50, 60, 70, 80, 90, 100, 200, 300, 400, 500, 600, 700, 800, 900, 1000, 2000, 3000, 4000, 5000, 6000, 7000, 8000, 9000, 10000, 20000, 30000, 40000, 50000, 60000, 70000, 80000, 90000, 100000, 200000, 300000, 400000, 500000, 600000, 700000, 800000, 900000, 1000000], "labelExpr": "datum.value==1?'10⁰':datum.value==10?'10¹':datum.value==100?'10²':datum.value==1000?'10³':datum.value==10000?'10⁴':datum.value==100000?'10⁵':datum.value==1000000?'10⁶':''", "tickSize": {"condition": {"test": "datum.value==1||datum.value==10||datum.value==100||datum.value==1000||datum.value==10000||datum.value==100000||datum.value==1000000", "value": 7}, "value": 4}, "grid": false, "labelFontSize": 15, "labelColor": "#111", "titleFontSize": 21, "titleFontWeight": "normal", "titleColor": "#111", "titlePadding": 10, "labelPadding": 4, "domainColor": "#000", "tickColor": "#000", "labelFlush": false},
          "title": "Flux [μJy]"},
        "text": {"field": "t"},
        "color": {"field": "s", "type": "nominal", "legend": null,
          "scale": {"domain": ["z=0.2", "z=1", "z=2", "z=3", "z=4", "z=5", "z=6", "z=7", "z=8"],
            "range": ["#000000", "#7f2c98", "#2238c4", "#2a9dbd", "#238a35", "#38c02c", "#d6e42a", "#f2a229", "#e0231c"]}}
      }
    },
    {
      "data": {"values": [{"src": "CIGALE models"}]},
      "mark": {"type": "point", "opacity": 0},
      "encoding": {
        "shape": {"field": "src", "type": "nominal",
          "legend": {"title": null, "orient": "bottom-left", "offset": 2, "padding": 3, "strokeColor": "#555", "fillColor": "white", "cornerRadius": 0, "symbolSize": 0, "symbolOpacity": 0, "symbolStrokeWidth": 0, "labelFontSize": 14, "labelColor": "#111", "labelOffset": 0}}
      }
    }
  ]
}
